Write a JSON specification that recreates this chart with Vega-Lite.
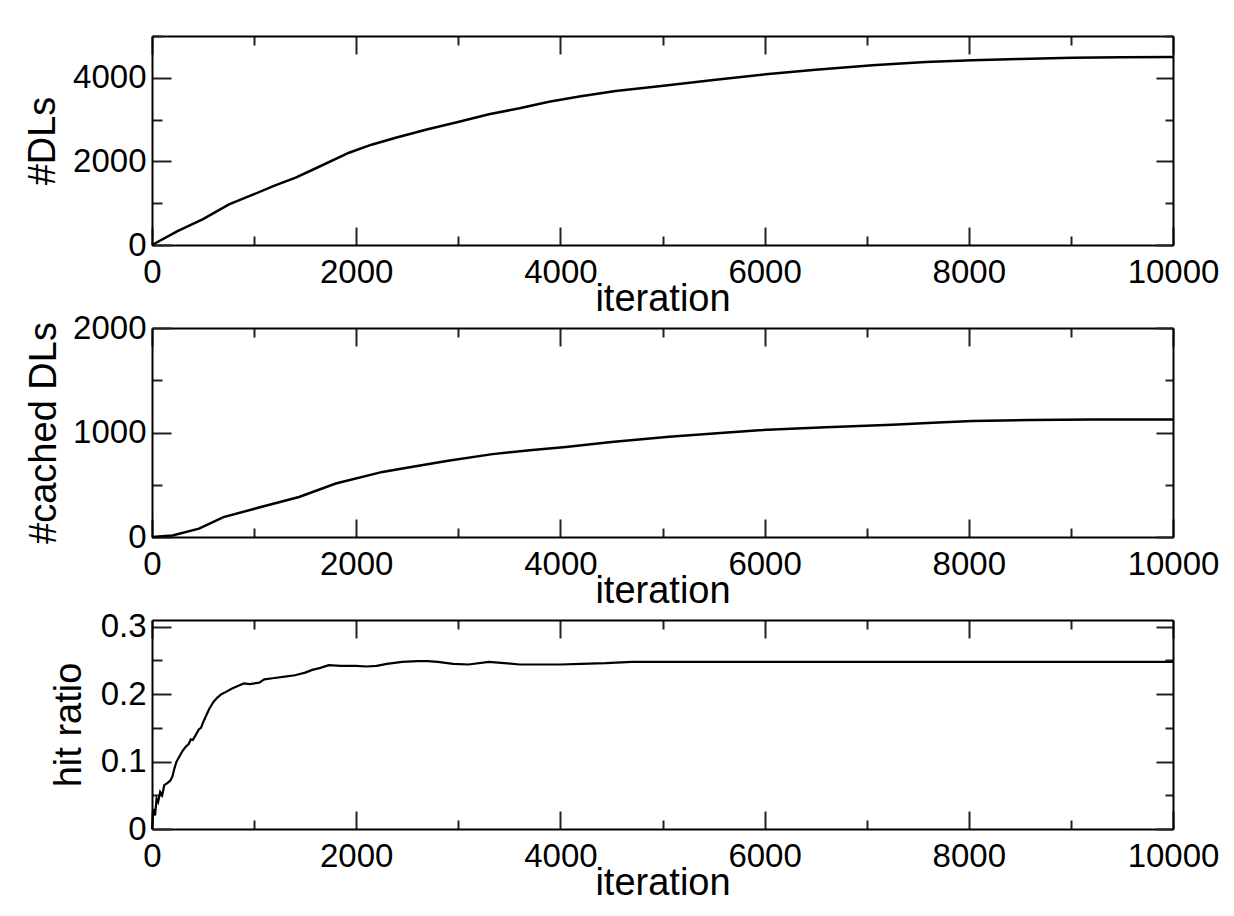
{
  "$schema": "https://vega.github.io/schema/vega-lite/v6.json",
  "background": "white",
  "padding": {"left": 24, "top": 20, "right": 10, "bottom": 5},
  "spacing": 83,
  "bounds": "flush",
  "datasets": {
    "dl": [
      {"iter": 0, "val": 0}, {"iter": 250, "val": 330}, {"iter": 500, "val": 620}, {"iter": 754, "val": 973},
      {"iter": 1000, "val": 1215}, {"iter": 1200, "val": 1420}, {"iter": 1407, "val": 1610}, {"iter": 1600, "val": 1830},
      {"iter": 1930, "val": 2208}, {"iter": 2150, "val": 2400}, {"iter": 2387, "val": 2567}, {"iter": 2700, "val": 2770},
      {"iter": 3007, "val": 2950}, {"iter": 3300, "val": 3130}, {"iter": 3600, "val": 3270}, {"iter": 3888, "val": 3428},
      {"iter": 4200, "val": 3560}, {"iter": 4541, "val": 3684}, {"iter": 4966, "val": 3800}, {"iter": 5500, "val": 3950},
      {"iter": 6010, "val": 4083}, {"iter": 6500, "val": 4190}, {"iter": 7055, "val": 4298}, {"iter": 7578, "val": 4377},
      {"iter": 8035, "val": 4418}, {"iter": 8500, "val": 4450}, {"iter": 9015, "val": 4480}, {"iter": 9500, "val": 4492},
      {"iter": 10000, "val": 4497}
    ],
    "cached": [
      {"iter": 0, "val": 0}, {"iter": 200, "val": 14}, {"iter": 460, "val": 80}, {"iter": 700, "val": 190},
      {"iter": 1048, "val": 282}, {"iter": 1440, "val": 383}, {"iter": 1800, "val": 512}, {"iter": 2257, "val": 623},
      {"iter": 2453, "val": 655}, {"iter": 2900, "val": 730}, {"iter": 3335, "val": 793}, {"iter": 3700, "val": 830},
      {"iter": 4053, "val": 862}, {"iter": 4500, "val": 910}, {"iter": 5065, "val": 960}, {"iter": 5500, "val": 990},
      {"iter": 5945, "val": 1022}, {"iter": 6600, "val": 1050}, {"iter": 7250, "val": 1075}, {"iter": 7700, "val": 1095},
      {"iter": 8035, "val": 1110}, {"iter": 8600, "val": 1120}, {"iter": 9210, "val": 1125}, {"iter": 10000, "val": 1125}
    ],
    "hit": [
      {"iter": 0, "val": 0}, {"iter": 15, "val": 0.03}, {"iter": 30, "val": 0.02}, {"iter": 45, "val": 0.045},
      {"iter": 60, "val": 0.04}, {"iter": 80, "val": 0.055}, {"iter": 100, "val": 0.05}, {"iter": 120, "val": 0.065},
      {"iter": 150, "val": 0.068}, {"iter": 180, "val": 0.072}, {"iter": 200, "val": 0.078}, {"iter": 220, "val": 0.09},
      {"iter": 240, "val": 0.1}, {"iter": 270, "val": 0.108}, {"iter": 300, "val": 0.116}, {"iter": 330, "val": 0.122},
      {"iter": 360, "val": 0.126}, {"iter": 380, "val": 0.133}, {"iter": 400, "val": 0.132}, {"iter": 430, "val": 0.14},
      {"iter": 460, "val": 0.148}, {"iter": 480, "val": 0.15},
      {"iter": 500, "val": 0.158}, {"iter": 530, "val": 0.168}, {"iter": 560, "val": 0.178}, {"iter": 600, "val": 0.188},
      {"iter": 640, "val": 0.195}, {"iter": 680, "val": 0.2}, {"iter": 720, "val": 0.203}, {"iter": 780, "val": 0.208},
      {"iter": 840, "val": 0.212}, {"iter": 900, "val": 0.216}, {"iter": 960, "val": 0.215}, {"iter": 1050, "val": 0.217},
      {"iter": 1100, "val": 0.222}, {"iter": 1200, "val": 0.224}, {"iter": 1300, "val": 0.226}, {"iter": 1400, "val": 0.228},
      {"iter": 1500, "val": 0.232}, {"iter": 1570, "val": 0.236}, {"iter": 1650, "val": 0.239}, {"iter": 1730, "val": 0.243},
      {"iter": 1850, "val": 0.242}, {"iter": 2000, "val": 0.242}, {"iter": 2100, "val": 0.241}, {"iter": 2200, "val": 0.242},
      {"iter": 2300, "val": 0.245}, {"iter": 2450, "val": 0.248}, {"iter": 2600, "val": 0.249}, {"iter": 2700, "val": 0.249},
      {"iter": 2800, "val": 0.248}, {"iter": 2950, "val": 0.245}, {"iter": 3100, "val": 0.244}, {"iter": 3300, "val": 0.248},
      {"iter": 3450, "val": 0.246}, {"iter": 3600, "val": 0.244}, {"iter": 3800, "val": 0.244}, {"iter": 4000, "val": 0.244},
      {"iter": 4200, "val": 0.245}, {"iter": 4445, "val": 0.246}, {"iter": 4700, "val": 0.248}, {"iter": 5000, "val": 0.248},
      {"iter": 5500, "val": 0.248}, {"iter": 6000, "val": 0.248}, {"iter": 6500, "val": 0.248}, {"iter": 7000, "val": 0.248},
      {"iter": 7500, "val": 0.248}, {"iter": 8000, "val": 0.248}, {"iter": 9000, "val": 0.248}, {"iter": 10000, "val": 0.248}
    ]
  },
  "vconcat": [
    {
      "width": 1021, "height": 209,
      "data": {"name": "dl"},
      "layer": [
        {
          "mark": {"type": "line", "color": "black", "strokeWidth": 2.5},
          "encoding": {
            "x": {"field": "iter", "type": "quantitative", "scale": {"domain": [0, 10000], "nice": false},
              "axis": {"orient": "bottom", "title": "iteration", "values": [0,1000,2000,3000,4000,5000,6000,7000,8000,9000,10000],
                "labelExpr": "datum.value % 2000 === 0 ? format(datum.value, 'd') : ''",
                "tickSize": {"condition": {"test": "datum.value % 2000 === 0", "value": -18}, "value": -9},
                "labelPadding": 29, "titlePadding": -18}},
            "y": {"field": "val", "type": "quantitative", "scale": {"domain": [0, 5000], "nice": false},
              "axis": {"orient": "left", "title": "#DLs", "values": [0,1000,2000,3000,4000,5000],
                "labelExpr": "datum.value % 2000 === 0 ? format(datum.value, 'd') : ''",
                "tickSize": {"condition": {"test": "datum.value % 2000 === 0", "value": -19}, "value": -10},
                "labelPadding": 25, "titlePadding": 10}}
          }
        },
        {
          "mark": {"type": "line", "opacity": 0},
          "encoding": {
            "x": {"field": "iter", "type": "quantitative", "scale": {"domain": [0, 10000], "nice": false},
              "axis": {"orient": "top", "title": null, "labels": false, "values": [0,1000,2000,3000,4000,5000,6000,7000,8000,9000,10000],
                "tickSize": {"condition": {"test": "datum.value % 2000 === 0", "value": -18}, "value": -9}}},
            "y": {"field": "val", "type": "quantitative", "scale": {"domain": [0, 5000], "nice": false},
              "axis": {"orient": "right", "title": null, "labels": false, "values": [0,1000,2000,3000,4000,5000],
                "tickSize": {"condition": {"test": "datum.value % 2000 === 0", "value": -17}, "value": -8}}}
          }
        }
      ],
      "resolve": {"scale": {"x": "independent", "y": "independent"}, "axis": {"x": "independent", "y": "independent"}}
    },
    {
      "width": 1021, "height": 209,
      "data": {"name": "cached"},
      "layer": [
        {
          "mark": {"type": "line", "color": "black", "strokeWidth": 2.5},
          "encoding": {
            "x": {"field": "iter", "type": "quantitative", "scale": {"domain": [0, 10000], "nice": false},
              "axis": {"orient": "bottom", "title": "iteration", "values": [0,1000,2000,3000,4000,5000,6000,7000,8000,9000,10000],
                "labelExpr": "datum.value % 2000 === 0 ? format(datum.value, 'd') : ''",
                "tickSize": {"condition": {"test": "datum.value % 2000 === 0", "value": -18}, "value": -9},
                "labelPadding": 29, "titlePadding": -18}},
            "y": {"field": "val", "type": "quantitative", "scale": {"domain": [0, 2000], "nice": false},
              "axis": {"orient": "left", "title": "#cached DLs", "values": [0,500,1000,1500,2000],
                "labelExpr": "datum.value % 1000 === 0 ? format(datum.value, 'd') : ''",
                "tickSize": {"condition": {"test": "datum.value % 1000 === 0", "value": -19}, "value": -10},
                "labelPadding": 25, "titlePadding": 9}}
          }
        },
        {
          "mark": {"type": "line", "opacity": 0},
          "encoding": {
            "x": {"field": "iter", "type": "quantitative", "scale": {"domain": [0, 10000], "nice": false},
              "axis": {"orient": "top", "title": null, "labels": false, "values": [0,1000,2000,3000,4000,5000,6000,7000,8000,9000,10000],
                "tickSize": {"condition": {"test": "datum.value % 2000 === 0", "value": -18}, "value": -9}}},
            "y": {"field": "val", "type": "quantitative", "scale": {"domain": [0, 2000], "nice": false},
              "axis": {"orient": "right", "title": null, "labels": false, "values": [0,500,1000,1500,2000],
                "tickSize": {"condition": {"test": "datum.value % 1000 === 0", "value": -17}, "value": -8}}}
          }
        }
      ],
      "resolve": {"scale": {"x": "independent", "y": "independent"}, "axis": {"x": "independent", "y": "independent"}}
    },
    {
      "width": 1021, "height": 209,
      "data": {"name": "hit"},
      "layer": [
        {
          "mark": {"type": "line", "color": "black", "strokeWidth": 2.2},
          "encoding": {
            "x": {"field": "iter", "type": "quantitative", "scale": {"domain": [0, 10000], "nice": false},
              "axis": {"orient": "bottom", "title": "iteration", "values": [0,1000,2000,3000,4000,5000,6000,7000,8000,9000,10000],
                "labelExpr": "datum.value % 2000 === 0 ? format(datum.value, 'd') : ''",
                "tickSize": {"condition": {"test": "datum.value % 2000 === 0", "value": -18}, "value": -9},
                "labelPadding": 29, "titlePadding": -18}},
            "y": {"field": "val", "type": "quantitative", "scale": {"domain": [0, 0.31], "nice": false},
              "axis": {"orient": "left", "title": "hit ratio", "values": [0,0.05,0.1,0.15,0.2,0.25,0.3],
                "labelExpr": "abs(datum.value * 10 - round(datum.value * 10)) < 0.001 ? format(datum.value, '~g') : ''",
                "tickSize": {"condition": {"test": "abs(datum.value * 10 - round(datum.value * 10)) < 0.001", "value": -19}, "value": -10},
                "labelPadding": 25, "titlePadding": 12}}
          }
        },
        {
          "mark": {"type": "line", "opacity": 0},
          "encoding": {
            "x": {"field": "iter", "type": "quantitative", "scale": {"domain": [0, 10000], "nice": false},
              "axis": {"orient": "top", "title": null, "labels": false, "values": [0,1000,2000,3000,4000,5000,6000,7000,8000,9000,10000],
                "tickSize": {"condition": {"test": "datum.value % 2000 === 0", "value": -18}, "value": -9}}},
            "y": {"field": "val", "type": "quantitative", "scale": {"domain": [0, 0.31], "nice": false},
              "axis": {"orient": "right", "title": null, "labels": false, "values": [0,0.05,0.1,0.15,0.2,0.25,0.3],
                "tickSize": {"condition": {"test": "abs(datum.value * 10 - round(datum.value * 10)) < 0.001", "value": -17}, "value": -8}}}
          }
        }
      ],
      "resolve": {"scale": {"x": "independent", "y": "independent"}, "axis": {"x": "independent", "y": "independent"}}
    }
  ],
  "config": {
    "font": "Liberation Sans",
    "view": {"stroke": null},
    "axis": {
      "grid": false,
      "domainColor": "black",
      "domainWidth": 2,
      "tickColor": "#222",
      "tickWidth": 2,
      "labelFont": "Liberation Sans",
      "labelFontSize": 33,
      "labelColor": "black",
      "labelFlush": false,
      "labelOverlap": false,
      "titleFont": "Liberation Sans",
      "titleFontSize": 38,
      "titleFontWeight": "normal",
      "titleColor": "black"
    }
  }
}
